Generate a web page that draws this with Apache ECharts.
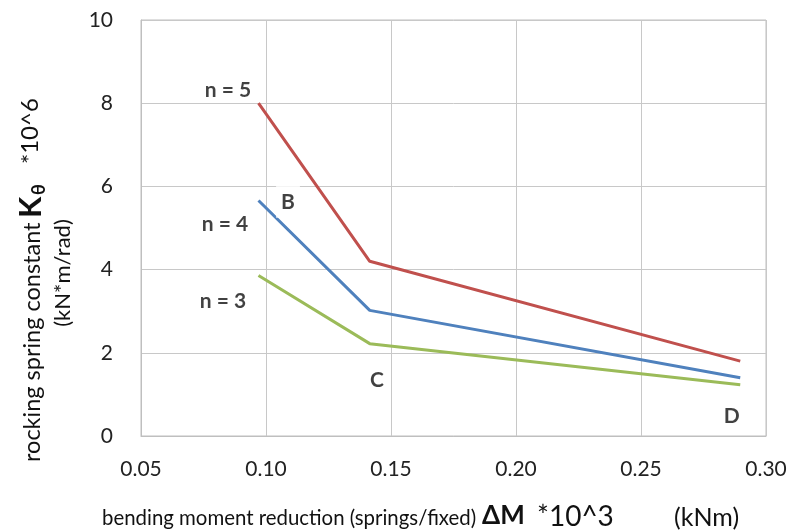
<!DOCTYPE html>
<html><head><meta charset="utf-8">
<script src="https://cdn.jsdelivr.net/npm/echarts@6/dist/echarts.min.js"></script>
<style>html,body{margin:0;padding:0;background:#fff}#c{width:790px;height:531px}</style>
</head><body><div id="c"></div>
<script>
// ---- data ----
const xTicks = [0.05, 0.10, 0.15, 0.20, 0.25, 0.30];
const yTicks = [0, 2, 4, 6, 8, 10];
const seriesNames = ['n = 5', 'n = 4', 'n = 3'];
const xN5 = [0.097, 0.1415, 0.2897];
const yN5 = [8.00, 4.20, 1.80];
const xN4 = [0.097, 0.1415, 0.2897];
const yN4 = [5.66, 3.02, 1.40];
const xN3 = [0.097, 0.1415, 0.2897];
const yN3 = [3.86, 2.22, 1.23];
const noteTexts = ['n = 5', 'n = 4', 'n = 3', 'B', 'C', 'D'];
const noteX = [0.0848, 0.0836, 0.0828, 0.1088, 0.1444, 0.2863];
const noteY = [8.30, 5.10, 3.23, 5.63, 1.35, 0.47];

const FONT = 'Lato, "Open Sans", sans-serif';
const zip = (xs, ys) => xs.map((x, i) => [x, ys[i]]);
const colors = ['#c0504d', '#4f81bd', '#9bbb59'];
const lines = [zip(xN5, yN5), zip(xN4, yN4), zip(xN3, yN3)];

const chart = echarts.init(document.getElementById('c'), null, {renderer: 'canvas'});
const R = Math.PI / 2;
const txt = (t, x, y, size, opts) => Object.assign({type: 'text', x: x, y: y,
  style: Object.assign({text: t, fontFamily: FONT, fontSize: size, fill: '#111',
    align: 'left', verticalAlign: 'middle'}, (opts && opts.style) || {})},
  (opts && opts.rot) ? {rotation: R} : {});

const option = {
  animation: false,
  backgroundColor: '#fff',
  grid: {left: 141, right: 24, top: 20, bottom: 95, show: true, borderColor: '#bfbfbf', borderWidth: 1},
  xAxis: {
    type: 'value', min: xTicks[0], max: xTicks[xTicks.length - 1], interval: 0.05,
    axisLine: {show: true, lineStyle: {color: '#bfbfbf'}},
    axisTick: {show: false},
    axisLabel: {fontFamily: FONT, fontSize: 21, color: '#222', margin: 23,
      formatter: v => v.toFixed(2)},
    splitLine: {show: true, lineStyle: {color: '#c8c8c8', width: 1}}
  },
  yAxis: {
    type: 'value', min: yTicks[0], max: yTicks[yTicks.length - 1], interval: 2,
    axisLine: {show: true, lineStyle: {color: '#bfbfbf'}},
    axisTick: {show: false},
    axisLabel: {fontFamily: FONT, fontSize: 21, color: '#222', margin: 28},
    splitLine: {show: true, lineStyle: {color: '#c8c8c8', width: 1}}
  },
  series: lines.map((d, i) => ({
    type: 'line', name: seriesNames[i], data: d, symbol: 'none',
    lineStyle: {color: colors[i], width: 3}
  })).concat([{
    type: 'scatter', symbolSize: 0, silent: true, z: 5,
    data: noteTexts.map((t, i) => {
      const item = {name: t, value: [noteX[i], noteY[i]]};
      if (t === 'B') item.label = {backgroundColor: '#fff', padding: [11, 5, 0, 5]};
      return item;
    }),
    label: {show: true, position: 'inside', formatter: p => p.name,
      fontFamily: FONT, fontWeight: 'bold', fontSize: 21, color: '#111'}
  }]),
  graphic: [
    txt('rocking spring constant', 32, 462, 23.5, {rot: true}),
    txt('K', 31, 218, 31, {rot: true, style: {fontWeight: 'bold'}}),
    txt('θ', 39, 195, 18, {rot: true, style: {fontWeight: 'bold'}}),
    txt('*10^6', 30, 164, 24, {rot: true}),
    txt('(kN*m/rad)', 63, 273, 22, {rot: true, style: {align: 'center'}}),
    txt('bending moment reduction (springs/fixed)', 102, 518, 20.4),
    txt('ΔM', 482, 516, 26, {style: {fontWeight: 'bold'}}),
    txt('*10^3', 537, 517, 28),
    txt('(kNm)', 674, 518, 25)
  ]
};
chart.setOption(option);
</script>
</body></html>
